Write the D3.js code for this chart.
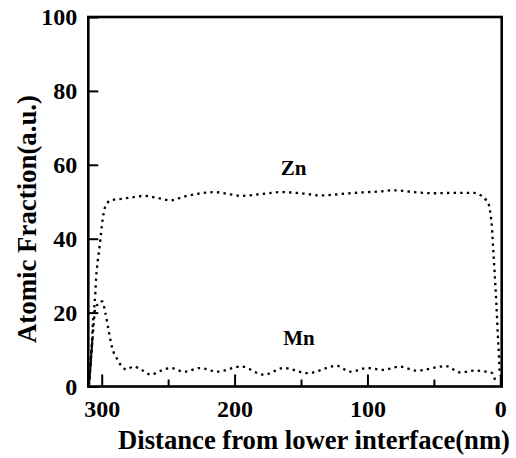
<!DOCTYPE html>
<html>
<head>
<meta charset="utf-8">
<script src="https://cdn.jsdelivr.net/npm/d3@7"></script>
<style>
  body { margin: 0; background: #fff; }
  text { font-family: "Liberation Serif", "Times New Roman", serif; font-weight: bold; fill: #000; }
</style>
</head>
<body>
<div id="chart"></div>
<script>
// data: [distance (nm), atomic fraction]
const znProfile = [
  [309.2, 1.8], [307.8, 9.9], [307.3, 12.6], [306.8, 16.2], [306, 20], [305.3, 22.7],
  [304.8, 25.4], [304.3, 28.9], [303.5, 32.4], [302.2, 36.2], [301, 39.8], [299.8, 43.8],
  [298.5, 47], [296, 49.6], [292, 50.5], [285, 50.8], [275, 51.3], [268, 51.6],
  [258, 51], [248, 50.4], [238, 51.4], [225, 52.3], [215, 52.6], [205, 52.1],
  [195, 51.6], [180, 52.1], [165, 52.6], [150, 52.3], [135, 51.7], [120, 52.1],
  [105, 52.5], [90, 52.8], [80, 53.1], [65, 52.6], [50, 52.3], [35, 52.4],
  [20, 52.4], [15, 51.8], [11, 50.6], [8.5, 49], [7.3, 46.5], [6.3, 43],
  [5.3, 37], [4.3, 31], [3, 22.6], [1.8, 13.5], [1, 8], [0.4, 3]
];

const mnProfile = [
  [309.5, 0.5], [308.8, 4.5], [307.3, 11], [306, 17], [304.8, 21.5], [303, 22.2],
  [301, 23], [299.5, 23], [297.3, 20], [294.7, 15], [292.2, 10.5], [288.5, 7.5],
  [285, 5.5], [281.5, 4.6], [276, 5.4], [270, 4.5], [263, 3.2], [256, 4.2],
  [248, 5], [238, 4], [226, 5], [213, 4], [195, 5.4], [178, 3.2],
  [163, 5], [145, 3.6], [123, 5.6], [113, 4], [100, 5], [88, 4.5],
  [76, 5.4], [63, 4.3], [41, 5.5], [30, 3.8], [20, 4.3], [10, 4],
  [6, 3.6], [4, 1.8]
];

// short solid trace rising at the lower interface
const edgeProfile = [[309.8, 0], [308.5, 5], [307, 13]];

// label anchors in data units
const seriesLabels = [
  { text: "Zn", x: 155.6, y: 57.2 },
  { text: "Mn", x: 151.5, y: 11.2 }
];

const xMajorTicks = [300, 200, 100, 0];
const xMinorTicks = [250, 150, 50];
const yTicks = [0, 20, 40, 60, 80, 100];

const W = 516, H = 458;
const plot = { left: 88.3, right: 501.7, top: 17, bottom: 386.5 };

const svg = d3.select("#chart")
    .append("svg")
    .attr("width", W)
    .attr("height", H);

// reversed distance axis
const x = d3.scaleLinear()
    .domain([310.1, -1.05])
    .range([plot.left, plot.right]);

const y = d3.scaleLinear()
    .domain([0, 100])
    .range([plot.bottom, plot.top]);

// x axis, ticks pointing into the plot
const xAxis = svg.append("g")
    .attr("transform", `translate(0, ${plot.bottom})`)
    .call(d3.axisBottom(x).tickValues(xMajorTicks).tickSize(-12).tickPadding(13));
xAxis.select(".domain").remove();
xAxis.selectAll("line").attr("stroke-width", 2);
xAxis.selectAll("text").style("font-size", "24px")
    .style("font-family", "'Liberation Serif', serif");

const xMinor = svg.append("g")
    .attr("transform", `translate(0, ${plot.bottom})`)
    .call(d3.axisBottom(x).tickValues(xMinorTicks).tickSize(-7).tickFormat(""));
xMinor.select(".domain").remove();
xMinor.selectAll("line").attr("stroke-width", 2);

// y axis
const yAxis = svg.append("g")
    .attr("transform", `translate(${plot.left}, 0)`)
    .call(d3.axisLeft(y).tickValues(yTicks).tickSize(-10).tickPadding(11));
yAxis.select(".domain").remove();
yAxis.selectAll("line").attr("stroke-width", 2);
yAxis.selectAll("text").style("font-size", "24px")
    .style("font-family", "'Liberation Serif', serif");

// frame
svg.append("rect")
    .attr("x", plot.left)
    .attr("y", plot.top)
    .attr("width", plot.right - plot.left)
    .attr("height", plot.bottom - plot.top)
    .attr("fill", "none")
    .attr("stroke", "#000")
    .attr("stroke-width", 2.6);

// curves
const line = d3.line()
    .x(d => x(d[0]))
    .y(d => y(d[1]))
    .curve(d3.curveMonotoneX);

[znProfile, mnProfile].forEach(data => {
    svg.append("path")
        .datum(data)
        .attr("d", line)
        .attr("fill", "none")
        .attr("stroke", "#000")
        .attr("stroke-width", 2.3)
        .attr("stroke-dasharray", "2.4,4.2");
});

svg.append("path")
    .datum(edgeProfile)
    .attr("d", d3.line().x(d => x(d[0])).y(d => y(d[1])))
    .attr("fill", "none")
    .attr("stroke", "#000")
    .attr("stroke-width", 2);

// series labels
svg.selectAll(".series-label")
    .data(seriesLabels)
    .join("text")
    .attr("class", "series-label")
    .attr("x", d => x(d.x))
    .attr("y", d => y(d.y))
    .attr("text-anchor", "middle")
    .style("font-size", "21px")
    .text(d => d.text);

// axis titles
svg.append("text")
    .attr("x", 314)
    .attr("y", 449)
    .attr("text-anchor", "middle")
    .style("font-size", "27px")
    .attr("textLength", 392)
    .attr("lengthAdjust", "spacingAndGlyphs")
    .text("Distance from lower interface(nm)");

svg.append("text")
    .attr("transform", "translate(36, 219) rotate(-90)")
    .attr("text-anchor", "middle")
    .style("font-size", "27px")
    .attr("textLength", 248)
    .attr("lengthAdjust", "spacingAndGlyphs")
    .text("Atomic Fraction(a.u.)");
</script>
</body>
</html>
